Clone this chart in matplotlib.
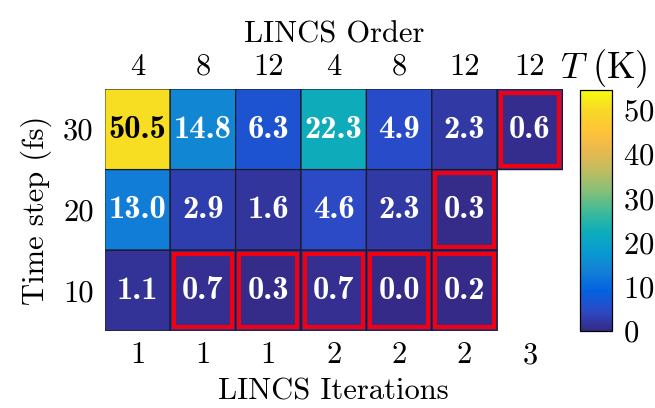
import numpy as np
import matplotlib.pyplot as plt
from matplotlib.colors import LinearSegmentedColormap
from matplotlib.patches import Rectangle

plt.rcParams['font.family'] = 'serif'
plt.rcParams['font.serif'] = ['cmr10']
plt.rcParams['mathtext.fontset'] = 'cm'
plt.rcParams['axes.formatter.use_mathtext'] = True
plt.rcParams['font.size'] = 22

# time steps (rows), LINCS settings (columns)
steps = [30, 20, 10]
orders = [4, 8, 12, 4, 8, 12, 12]
iterations = [1, 1, 1, 2, 2, 2, 3]
temp_30 = [50.5, 14.8, 6.3, 22.3, 4.9, 2.3, 0.6]
temp_20 = [13.0, 2.9, 1.6, 4.6, 2.3, 0.3, np.nan]
temp_10 = [1.1, 0.7, 0.3, 0.7, 0.0, 0.2, np.nan]
# (row, column) of the cheapest stable setting
stable = [(0, 6), (1, 5), (2, 1), (2, 2), (2, 3), (2, 4), (2, 5)]

# parula-like colormap
parula = LinearSegmentedColormap.from_list('parula', [
    (0.2081, 0.1663, 0.5292), (0.1707, 0.2919, 0.7792), (0.0117, 0.3875, 0.8820),
    (0.0779, 0.5040, 0.8384), (0.0265, 0.6137, 0.8135), (0.0589, 0.6838, 0.7254),
    (0.2586, 0.7317, 0.5954), (0.5300, 0.7491, 0.4661), (0.7525, 0.7384, 0.3768),
    (0.9139, 0.7258, 0.3063), (0.9990, 0.7653, 0.2164), (0.9697, 0.8481, 0.1475),
    (0.9763, 0.9831, 0.0538)])

T = np.ma.masked_invalid(np.array([temp_30, temp_20, temp_10]))
vmax = 54.5

fig = plt.figure(figsize=(6.55, 4.08), dpi=100)
ax = fig.add_axes([0.160, 0.189, 0.699, 0.593])
cax = fig.add_axes([0.885, 0.189, 0.049, 0.590])

pc = ax.pcolor(T, cmap=parula, vmin=0, vmax=vmax, edgecolors='#1a1a2a', linewidth=0.9)
ax.set_xlim(0, T.shape[1])
ax.set_ylim(T.shape[0], 0)
for s in ax.spines.values():
    s.set_visible(False)

for i in range(T.shape[0]):
    for j in range(T.shape[1]):
        if T.mask[i, j]:
            continue
        v = T[i, j]
        ax.text(j + 0.5, i + 0.5, '%.1f' % v, ha='center', va='center',
                fontfamily='cmb10', fontsize=23.5,
                color='k' if v > 40 else 'w')

for i, j in stable:
    ax.add_patch(Rectangle((j + 0.055, i + 0.045), 0.89, 0.91, fill=False,
                           edgecolor='#f00010', linewidth=3.0, zorder=3))

xpos = np.arange(len(orders)) + 0.5
ax.set_xticks(xpos, [str(n) for n in iterations])
ax.set_yticks(np.arange(len(steps)) + 0.5, [str(s) for s in steps])
ax.tick_params(length=0, pad=8)
ax.set_xlabel('LINCS Iterations', labelpad=6)
ax.set_ylabel('Time step (fs)', labelpad=8)

top = ax.secondary_xaxis('top')
top.set_xticks(xpos, [str(n) for n in orders])
top.tick_params(length=0, pad=6)
top.set_xlabel('LINCS Order', labelpad=8)
top.spines['top'].set_visible(False)

cb = fig.colorbar(pc, cax=cax, ticks=[0, 10, 20, 30, 40, 50])
cb.outline.set_linewidth(0.9)
cax.tick_params(length=0, pad=8)
cax.set_title(r'$T\ $(K)', pad=8, x=0.75)

fig.savefig('out.png', dpi=100)
